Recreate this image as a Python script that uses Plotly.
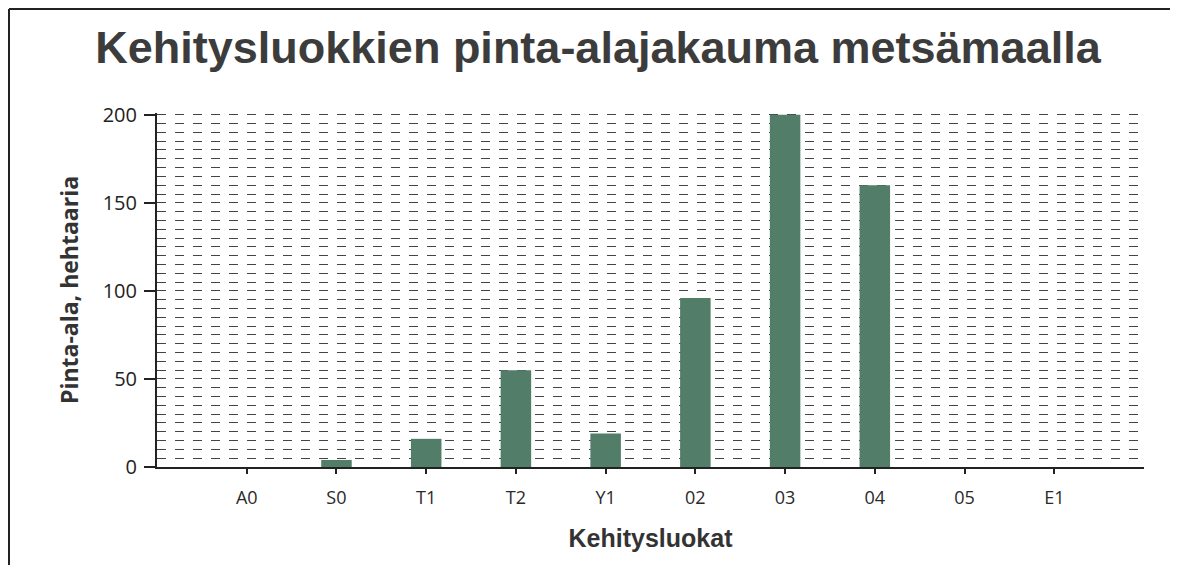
import plotly.graph_objects as go

categories = ["A0", "S0", "T1", "T2", "Y1", "02", "03", "04", "05", "E1"]
values = [0, 4, 16, 55, 19, 96, 200, 160, 0, 0]

# page body has an 8px margin; positions below are in page pixels
OFF = 8
W, H = 1162, 557
L = 157 - OFF
T = 113 - OFF
R = W - (1144 - OFF)
B = H - (467 - OFF)

fig = go.Figure()
fig.add_trace(go.Bar(
    x=list(range(len(categories))), y=values,
    marker=dict(color="#527d68", line=dict(width=0)),
    width=0.34,
))

pw = W - L - R
ph = H - T - B
def px(x):
    return (x - OFF - L) / pw
def py(y):
    return (H - B - (y - OFF)) / ph

border = dict(color="#222", width=2)
fig.add_shape(type="line", xref="paper", yref="paper",
              x0=px(9), x1=px(9), y0=py(566), y1=py(9), line=border, layer="below")
fig.add_shape(type="line", xref="paper", yref="paper",
              x0=px(9), x1=px(1170), y0=py(9), y1=py(9), line=border, layer="below")

fig.update_layout(
    width=W, height=H,
    margin=dict(l=L, r=R, t=T, b=B),
    paper_bgcolor="white", plot_bgcolor="white",
    showlegend=False,
    title=dict(text="<b>Kehitysluokkien pinta-alajakauma metsämaalla</b>",
               x=px(598), xanchor="center", xref="paper",
               y=1 - (47 - OFF) / H, yanchor="middle",
               font=dict(family="Liberation Sans, Arial", size=45, color="#3c3c3c")),
    xaxis=dict(
        range=[-1, 10],
        tickmode="array", tickvals=list(range(len(categories))), ticktext=categories,
        ticks="outside", ticklen=5, tickcolor="#222", tickwidth=1.5,
        ticklabelstandoff=8,
        showline=True, linecolor="#222", linewidth=2,
        showgrid=False, zeroline=False,
        tickfont=dict(family="Open Sans, DejaVu Sans", size=18, color="#2a2a2a"),
        title=dict(text="<b>Kehitysluokat</b>", standoff=22,
                   font=dict(family="Liberation Sans, Arial", size=25, color="#333")),
    ),
    yaxis=dict(
        range=[0, 201],
        tickmode="array", tickvals=[0, 50, 100, 150, 200],
        ticks="outside", ticklen=11, tickcolor="#222", tickwidth=1.5,
        ticklabelstandoff=3,
        showline=True, linecolor="#222", linewidth=2,
        showgrid=True, gridcolor="#444", gridwidth=1, griddash="dash",
        minor=dict(dtick=5, showgrid=True, gridcolor="#444", gridwidth=1, griddash="dash", ticks=""),
        zeroline=False,
        tickfont=dict(family="Open Sans, DejaVu Sans", size=20, color="#222"),
        title=dict(text="<b>Pinta-ala, hehtaaria</b>", standoff=18,
                   font=dict(family="Open Sans, DejaVu Sans", size=23, color="#333")),
    ),
)

fig.write_html("out.html")
